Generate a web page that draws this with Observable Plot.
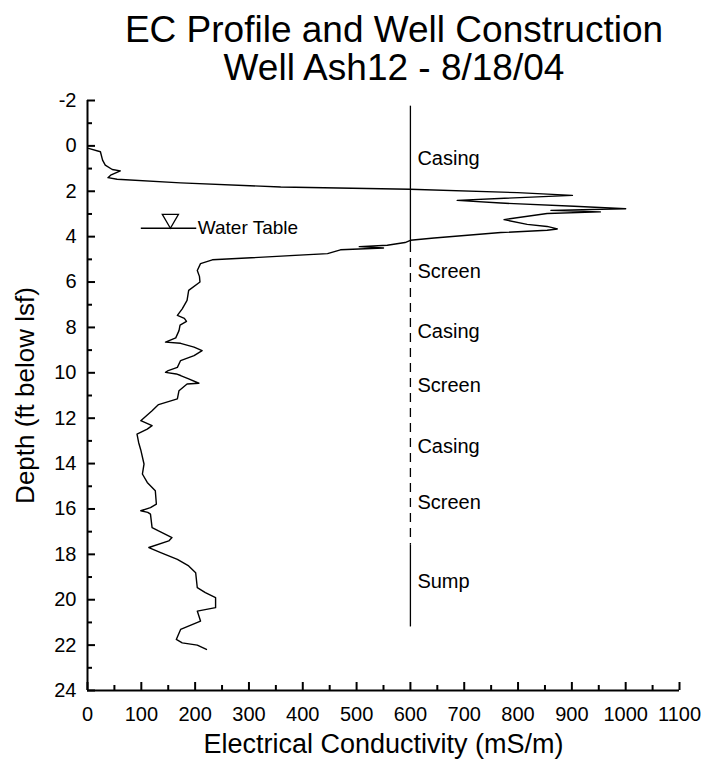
<!DOCTYPE html>
<html><head><meta charset="utf-8">
<script src="https://cdn.jsdelivr.net/npm/d3@7"></script>
<script src="https://cdn.jsdelivr.net/npm/@observablehq/plot@0.6"></script>
<style>
body{margin:0;background:#fff;font-family:"Liberation Sans",Arial,sans-serif;}
#title{width:716px;box-sizing:border-box;padding:11px 0 0 72px;text-align:center;font-size:37px;line-height:38px;height:87px;color:#000;}
</style></head><body>
<div id="title">EC Profile and Well Construction<br>Well Ash12 - 8/18/04</div>
<div id="chart"></div>
<script>
// EC profile (depth in ft below lsf, EC in mS/m)
const depth = [0.11,0.26,0.63,0.85,1.04,1.10,1.29,1.40,1.47,1.63,1.81,1.91,2.06,2.18,2.40,2.52,2.66,2.77,2.84,2.91,2.98,3.25,3.46,3.55,3.66,3.72,3.82,4.06,4.16,4.26,4.38,4.44,4.50,4.58,4.75,5.02,5.19,5.49,5.75,6.00,6.37,6.81,7.18,7.47,7.60,7.73,7.90,8.14,8.46,8.65,8.70,8.87,9.02,9.24,9.46,9.76,9.90,9.98,10.05,10.12,10.27,10.46,10.49,10.79,11.15,11.40,11.67,12.11,12.33,12.48,12.70,13.07,13.40,14.02,14.46,14.83,15.20,15.79,15.94,16.08,16.15,16.23,16.82,16.97,17.26,17.41,17.70,17.92,18.22,18.51,18.81,19.47,19.69,19.91,20.35,20.50,20.94,21.31,21.75,21.90,22.00,22.19];
const ec = [2,24,28,33,46,61,43,38,55,173,359,599,799,901,687,768,904,1000,861,953,854,774,817,854,873,854,768,644,600,590,557,505,550,470,446,232,210,204,208,209,188,185,176,167,180,184,172,170,164,145,173,198,213,198,173,167,150,145,165,173,188,207,185,170,167,132,120,99,120,111,92,95,99,105,102,111,126,128,117,99,112,117,120,132,157,151,114,136,167,188,201,204,219,238,238,204,210,173,165,176,204,221];

// Axis ticks
const xMajor = [0,100,200,300,400,500,600,700,800,900,1000,1100];
const xMinor = [50,150,250,350,450,550,650,750,850,950,1050];
const yMajor = [-2,0,2,4,6,8,10,12,14,16,18,20,22,24];
const yMinor = [-1,1,3,5,7,9,11,13,15,17,19,21,23];

// Well construction
const wellX = [600];
const wellTop = [-1.75, 4.3, 17.6];
const wellBottom = [4.3, 17.6, 21.2];
const wellDashed = [false, true, false];
const zoneNames = ["Casing","Screen","Casing","Screen","Casing","Screen","Sump"];
const zoneLabelDepth = [0.55,5.55,8.2,10.55,13.25,15.7,19.2];

// Water table
const waterTableDepth = [3.63];
const waterTableX1 = [100];
const waterTableX2 = [203];
const waterTableMarkX = [154];
const waterTableLabel = ["Water Table"];

const W = 716, H = 674, mL = 87, mR = 37, mT = 13, mB = 71;
const plotW = W - mL - mR, plotH = H - mT - mB;
const idx = depth.map((d, i) => i);
const segIdx = wellTop.map((d, i) => i);

const chart = Plot.plot({
  width: W, height: H,
  marginLeft: mL, marginRight: mR, marginTop: mT, marginBottom: mB,
  style: {fontFamily: "'Liberation Sans', Arial, sans-serif", color: "black", background: "white", overflow: "visible"},
  x: {domain: [0, 1100]},
  y: {domain: [-2, 24], reverse: true},
  marks: [
    Plot.axisX({ticks: xMajor, tickSize: 0, tickPadding: 16, fontSize: 20, label: null, tickFormat: d => String(d)}),
    Plot.axisY({ticks: yMajor, tickSize: 0, tickPadding: 11, fontSize: 20, label: null, tickFormat: d => String(d)}),
    Plot.tickX(xMajor, {x: d => d, insetTop: plotH - 8, strokeWidth: 2}),
    Plot.tickX(xMinor, {x: d => d, insetTop: plotH - 5, strokeWidth: 2}),
    Plot.tickY(yMajor, {y: d => d, insetRight: plotW - 8, strokeWidth: 2}),
    Plot.tickY(yMinor, {y: d => d, insetRight: plotW - 5, strokeWidth: 2}),
    Plot.ruleX([0], {strokeWidth: 2}),
    Plot.ruleY([24], {strokeWidth: 2}),
    Plot.text(["Electrical Conductivity (mS/m)"], {frameAnchor: "bottom", dy: 54, fontSize: 27, textAnchor: "middle", lineAnchor: "middle"}),
    Plot.text(["Depth (ft below lsf)"], {frameAnchor: "left", rotate: -90, dx: -62, fontSize: 26, textAnchor: "middle", lineAnchor: "middle"}),
    // well construction
    Plot.ruleX(segIdx.filter(i => !wellDashed[i]), {x: () => wellX[0], y1: i => wellTop[i], y2: i => wellBottom[i], strokeWidth: 1.3}),
    Plot.ruleX(segIdx.filter(i => wellDashed[i]), {x: () => wellX[0], y1: i => wellTop[i], y2: i => wellBottom[i], strokeWidth: 1.3, strokeDasharray: "9,6"}),
    Plot.text(zoneNames, {x: () => wellX[0], y: (d, i) => zoneLabelDepth[i], dx: 7, textAnchor: "start", fontSize: 20}),
    // water table
    Plot.ruleY(waterTableDepth, {y: d => d, x1: (d, i) => waterTableX1[i], x2: (d, i) => waterTableX2[i], strokeWidth: 1.3}),
    Plot.dot(waterTableDepth, {y: d => d, x: (d, i) => waterTableMarkX[i], symbol: "triangle", rotate: 180, r: 6, dy: -9.3, fill: "white", stroke: "black", strokeWidth: 1.3}),
    Plot.text(waterTableLabel, {y: (d, i) => waterTableDepth[i], x: (d, i) => waterTableX2[i], dx: 1, textAnchor: "start", fontSize: 19}),
    // EC profile
    Plot.line(idx, {x: i => ec[i], y: i => depth[i], strokeWidth: 1.4, stroke: "black"})
  ]
});
document.getElementById("chart").appendChild(chart);
</script>
</body></html>
